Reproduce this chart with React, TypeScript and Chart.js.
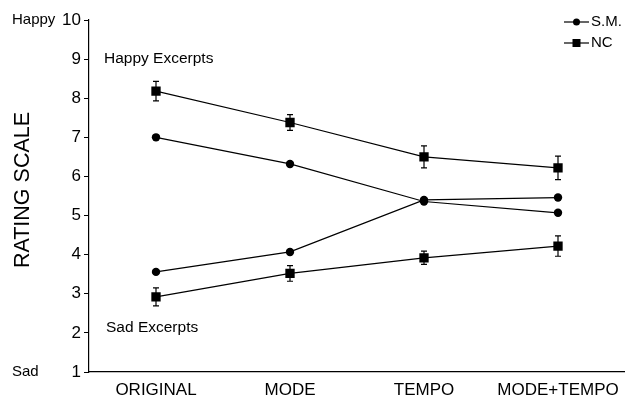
import React, { useEffect, useRef } from "react";
import { Chart, registerables } from "chart.js";

Chart.register(...registerables);

const categories = ["ORIGINAL", "MODE", "TEMPO", "MODE+TEMPO"];
const smHappy = [7.0, 6.32, 5.36, 5.07];
const smSad = [3.56, 4.07, 5.4, 5.46];
const ncHappy = [8.18, 7.38, 6.5, 6.22];
const ncHappyErr = [0.25, 0.2, 0.28, 0.3];
const ncSad = [2.92, 3.52, 3.92, 4.22];
const ncSadErr = [0.23, 0.2, 0.17, 0.26];
const yTicks = [1, 2, 3, 4, 5, 6, 7, 8, 9, 10];

const FONT = "Liberation Sans, Arial, sans-serif";

const errorBarPlugin = {
  id: "errorBars",
  afterDatasetsDraw(chart: any) {
    const ctx = chart.ctx;
    const xs = chart.scales.x;
    const ys = chart.scales.y;
    const sets = [
      [ncHappy, ncHappyErr],
      [ncSad, ncSadErr],
    ];
    ctx.save();
    ctx.strokeStyle = "#000";
    ctx.lineWidth = 1.2;
    sets.forEach(([vals, errs]) => {
      vals.forEach((v: number, i: number) => {
        const x = xs.getPixelForValue(i);
        const yt = ys.getPixelForValue(v + errs[i]);
        const yb = ys.getPixelForValue(v - errs[i]);
        ctx.beginPath();
        ctx.moveTo(x, yt);
        ctx.lineTo(x, yb);
        ctx.moveTo(x - 3, yt);
        ctx.lineTo(x + 3, yt);
        ctx.moveTo(x - 3, yb);
        ctx.lineTo(x + 3, yb);
        ctx.stroke();
      });
    });
    ctx.restore();
  },
};

const annotationPlugin = {
  id: "annotations",
  afterDraw(chart: any) {
    const ctx = chart.ctx;
    const ys = chart.scales.y;
    const area = chart.chartArea;
    ctx.save();
    ctx.fillStyle = "#000";
    ctx.textBaseline = "middle";
    ctx.textAlign = "left";
    ctx.font = `15.5px ${FONT}`;
    ctx.fillText("Happy Excerpts", area.left + 15, ys.getPixelForValue(9));
    ctx.fillText("Sad Excerpts", area.left + 17, ys.getPixelForValue(2.12));
    ctx.font = `15px ${FONT}`;
    ctx.fillText("Happy", 12, ys.getPixelForValue(10));
    ctx.fillText("Sad", 12, ys.getPixelForValue(1));

    // y-axis title
    ctx.save();
    ctx.translate(23, (area.top + area.bottom) / 2 - 6);
    ctx.rotate(-Math.PI / 2);
    ctx.textAlign = "center";
    ctx.font = `21.5px ${FONT}`;
    ctx.fillText("RATING SCALE", 0, 0);
    ctx.restore();

    // legend
    const items = [
      { label: "S.M.", style: "circle", y: 22 },
      { label: "NC", style: "rect", y: 43 },
    ];
    ctx.font = `15px ${FONT}`;
    items.forEach((it) => {
      ctx.strokeStyle = "#000";
      ctx.lineWidth = 1.2;
      ctx.beginPath();
      ctx.moveTo(564, it.y);
      ctx.lineTo(589, it.y);
      ctx.stroke();
      ctx.beginPath();
      if (it.style === "circle") {
        ctx.arc(576.5, it.y, 3.5, 0, Math.PI * 2);
      } else {
        ctx.rect(572.5, it.y - 4, 8, 8);
      }
      ctx.fill();
      ctx.fillText(it.label, 591, it.y);
    });
    ctx.restore();
  },
};

export default function App() {
  const ref = useRef<HTMLCanvasElement>(null);
  useEffect(() => {
    document.body.style.margin = "0";
    const line = (data: number[], style: string, r: number) => ({
      data,
      borderColor: "#000",
      backgroundColor: "#000",
      borderWidth: 1.2,
      pointStyle: style,
      pointRadius: r,
      pointBorderWidth: 0,
      pointBackgroundColor: "#000",
      tension: 0,
      fill: false,
    });
    const chart = new Chart(ref.current!, {
      type: "line",
      data: {
        labels: categories,
        datasets: [
          line(smHappy, "circle", 4.2),
          line(smSad, "circle", 4.2),
          line(ncHappy, "rect", 6.6),
          line(ncSad, "rect", 6.6),
        ],
      },
      options: {
        animation: false,
        responsive: false,
        layout: {
          autoPadding: false,
          padding: { top: 20, right: 0, left: 0, bottom: 0 },
        },
        plugins: {
          legend: { display: false },
          tooltip: { enabled: false },
        },
        scales: {
          x: {
            offset: true,
            grid: { display: false, drawTicks: false },
            border: { display: true, color: "#000", width: 1.2 },
            ticks: {
              color: "#000",
              font: { family: FONT, size: 17 },
              padding: 8,
              maxRotation: 0,
              autoSkip: false,
            },
            afterFit(scale: any) {
              scale.height = 26;
              scale.paddingRight = 0;
              scale.paddingLeft = 0;
            },
          },
          y: {
            min: 1,
            max: 10,
            afterBuildTicks(scale: any) {
              scale.ticks = yTicks.map((v) => ({ value: v }));
            },
            grid: {
              drawOnChartArea: false,
              drawTicks: true,
              tickLength: 5,
              color: "#000",
            },
            border: { display: true, color: "#000", width: 1.2 },
            ticks: {
              color: "#000",
              font: { family: FONT, size: 17 },
              padding: 3,
            },
            title: { display: false },
            afterFit(scale: any) {
              scale.width = 89;
              scale.paddingTop = 0;
              scale.paddingBottom = 0;
            },
          },
        },
      },
      plugins: [errorBarPlugin, annotationPlugin],
    });
    return () => chart.destroy();
  }, []);
  return (
    <div style={{ width: 625, height: 398, background: "#fff" }}>
      <canvas ref={ref} width={625} height={398} />
    </div>
  );
}
